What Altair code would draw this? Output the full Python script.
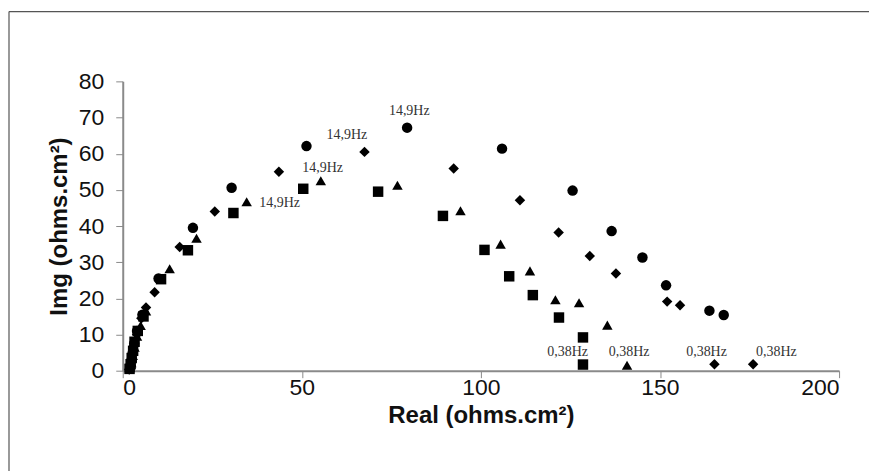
import altair as alt
import pandas as pd

# ---- data ----
circle_x = [2.0, 2.2, 2.5, 2.8, 3.2, 4.0, 5.5, 10.0, 19.6, 30.4, 51.3, 79.4, 105.9, 125.6, 136.5, 145.1, 151.7, 163.8, 167.8]
circle_y = [0.5, 1.5, 3.0, 5.0, 7.5, 11.0, 15.5, 25.5, 39.5, 50.6, 62.1, 67.2, 61.4, 49.8, 38.6, 31.3, 23.6, 16.6, 15.4]

diamond_x = [1.8, 2.1, 2.4, 2.7, 3.2, 4.0, 5.2, 6.5, 8.9, 15.9, 25.7, 43.6, 67.5, 92.4, 110.9, 121.7, 130.4, 137.7, 152.0, 155.6, 165.2, 176.0]
diamond_y = [0.3, 1.2, 2.5, 4.5, 7.0, 10.0, 14.5, 17.5, 21.7, 34.2, 44.0, 55.0, 60.5, 55.9, 47.1, 38.2, 31.7, 26.9, 19.1, 18.1, 1.8, 1.8]

square_x = [1.9, 2.2, 2.5, 2.9, 3.3, 4.2, 5.8, 10.7, 18.2, 30.9, 50.4, 71.3, 89.4, 101.0, 107.9, 114.5, 121.8, 128.5, 128.5]
square_y = [0.5, 1.8, 3.5, 5.5, 8.0, 11.0, 15.0, 25.3, 33.3, 43.6, 50.3, 49.5, 42.8, 33.4, 26.1, 20.9, 14.7, 9.2, 1.7]

triangle_x = [2.0, 2.4, 2.8, 3.3, 4.0, 5.0, 6.5, 13.1, 20.6, 34.6, 55.3, 76.7, 94.3, 105.5, 113.7, 120.8, 127.4, 135.3, 140.8]
triangle_y = [0.8, 2.2, 4.2, 6.5, 9.5, 12.5, 16.5, 28.2, 36.6, 46.7, 52.5, 51.3, 44.2, 35.0, 27.6, 19.6, 18.8, 12.6, 1.5]

label_text = ["14,9Hz", "14,9Hz", "14,9Hz", "14,9Hz", "0,38Hz", "0,38Hz", "0,38Hz", "0,38Hz"]
label_x = [80.0, 62.6, 55.8, 43.8, 124.2, 141.4, 163.0, 182.5]
label_y = [71.8, 65.1, 56.0, 46.5, 5.1, 5.1, 5.1, 5.1]

x_ticks = [0, 50, 100, 150, 200]
y_ticks = [0, 10, 20, 30, 40, 50, 60, 70, 80]

# ---- tables ----
rows = []
for name, xs, ys in [("circle", circle_x, circle_y), ("diamond", diamond_x, diamond_y),
                     ("square", square_x, square_y), ("triangle", triangle_x, triangle_y)]:
    for a, b in zip(xs, ys):
        rows.append({"series": name, "real": a, "img": b})
pts = pd.DataFrame(rows)
labels = pd.DataFrame({"text": label_text, "real": label_x, "img": label_y})

W, H = 718, 290

xscale = alt.Scale(domain=[0, 200], nice=False)
yscale = alt.Scale(domain=[0, 80], nice=False)
x_axis = alt.Axis(values=x_ticks, title="Real (ohms.cm²)", titlePadding=4,
                  labelPadding=-1, labelOverlap=False)
y_axis = alt.Axis(values=y_ticks, title="Img (ohms.cm²)", titlePadding=7,
                  labelPadding=12, labelOverlap=False)

points = alt.Chart(pts).mark_point(filled=True, opacity=1, color="black", strokeWidth=0).encode(
    x=alt.X("real:Q", scale=xscale, axis=x_axis),
    y=alt.Y("img:Q", scale=yscale, axis=y_axis),
    shape=alt.Shape("series:N", legend=None,
                    scale=alt.Scale(domain=["circle", "diamond", "square", "triangle"],
                                    range=["circle", "diamond", "square", "triangle-up"])),
    size=alt.Size("series:N", legend=None,
                  scale=alt.Scale(domain=["circle", "diamond", "square", "triangle"],
                                  range=[110, 110, 135, 135])),
)

text = alt.Chart(labels).mark_text(font="Liberation Serif", fontSize=14, color="#333333",
                                   baseline="middle", align="center").encode(
    x=alt.X("real:Q", scale=xscale, axis=x_axis),
    y=alt.Y("img:Q", scale=yscale, axis=y_axis),
    text="text:N",
)

one = pd.DataFrame({"a": [0]})
border_top = alt.Chart(one).mark_rule(color="#555555", strokeWidth=1.2).encode(
    x=alt.value(-114), x2=alt.value(760), y=alt.value(-70))
border_left = alt.Chart(one).mark_rule(color="#555555", strokeWidth=1.2).encode(
    x=alt.value(-114), y=alt.value(-70), y2=alt.value(420))

chart = alt.layer(border_top, border_left, points, text).properties(
    width=W, height=H,
    autosize=alt.AutoSizeParams(type="none"),
    padding={"left": 115, "top": 73, "right": 30, "bottom": 100},
    background="white",
).configure_view(stroke="transparent").configure_axis(
    grid=False,
    domainColor="#8a8a8a", domainWidth=2,
    tickColor="#8a8a8a", tickWidth=1, tickSize=7,
    labelFont="Liberation Sans", labelFontSize=23, labelColor="#111111",
    titleFont="Liberation Sans", titleFontSize=24, titleFontWeight="bold", titleColor="#111111",
)

chart.save("out.html", embed_options={"renderer": "svg", "actions": False})
